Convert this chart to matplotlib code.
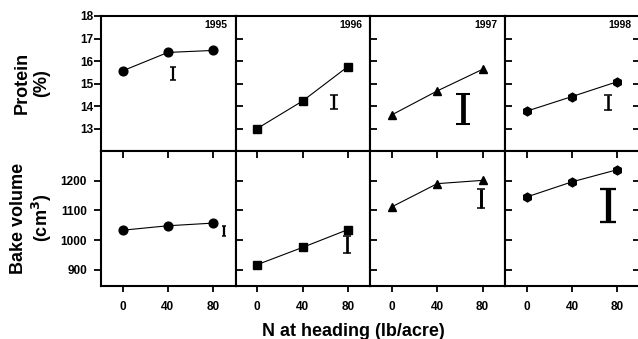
import matplotlib

matplotlib.use("Agg")

import matplotlib.pyplot as plt
import numpy as np

plt.rcParams.update(
    {
        "font.family": ["Liberation Sans", "DejaVu Sans"],
        "font.weight": "bold",
        "font.size": 8.5,
    }
)

YEARS = ["1995", "1996", "1997", "1998"]
MARKERS = ["o", "s", "^", "h"]
N_RATE = [0, 40, 80]

PROTEIN = [
    [15.56, 16.38, 16.47],
    [13.00, 14.22, 15.75],
    [13.61, 14.67, 15.63],
    [13.77, 14.42, 15.08],
]
BAKE = [
    [1033, 1048, 1057],
    [917, 975, 1035],
    [1112, 1190, 1201],
    [1145, 1196, 1237],
]

# LSD bars: x position, low, high
PROTEIN_LSD_X = [44.6, 67.4, 63.0, 72.0]
PROTEIN_LSD_LO = [15.14, 13.85, 13.21, 13.80]
PROTEIN_LSD_HI = [15.74, 14.50, 14.52, 14.50]
BAKE_LSD_X = [89.7, 79.0, 79.0, 72.0]
BAKE_LSD_LO = [1013, 956, 1109, 1062]
BAKE_LSD_HI = [1048, 1013, 1171, 1173]

PROTEIN_TICKS = [13, 14, 15, 16, 17, 18]
BAKE_TICKS = [900, 1000, 1100, 1200]

W, H = 638, 339
fig, axes = plt.subplots(2, 4, figsize=(W / 100, H / 100), dpi=100, sharex=True)
fig.subplots_adjust(left=101 / W, right=1.003, top=1 - 16 / H, bottom=1 - 286 / H,
                    wspace=0, hspace=0)


def draw_lsd(ax, x, lo, hi, ylim):
    # serif "I"-style bar, scaled with its height
    ax_h = ax.get_position().height * H
    h_px = (hi - lo) / (ylim[1] - ylim[0]) * ax_h
    pt = 0.72
    ax.errorbar([x], [(lo + hi) / 2], yerr=[[(hi - lo) / 2]], fmt="none",
                ecolor="black", elinewidth=max(0.16 * h_px * pt, 1.6),
                capsize=0.24 * h_px * pt, capthick=max(0.07 * h_px * pt, 1.1))


for i in range(4):
    top = axes[0, i]
    bot = axes[1, i]
    for ax, data, ylim, ticks, lx, llo, lhi in (
        (top, PROTEIN, (12, 18), PROTEIN_TICKS, PROTEIN_LSD_X, PROTEIN_LSD_LO, PROTEIN_LSD_HI),
        (bot, BAKE, (845, 1300), BAKE_TICKS, BAKE_LSD_X, BAKE_LSD_LO, BAKE_LSD_HI),
    ):
        ax.plot(N_RATE, data[i], color="black", lw=0.8, marker=MARKERS[i],
                ms=6.3 if MARKERS[i] != "s" else 5.8, mfc="black", mec="black")
        draw_lsd(ax, lx[i], llo[i], lhi[i], ylim)
        ax.set_ylim(*ylim)
        ax.set_yticks(ticks)
        for s in ax.spines.values():
            s.set_linewidth(1.5)
        ax.tick_params(axis="y", length=5, width=1.3,
                       direction="out" if i == 0 else "in",
                       right=(i == 3), labelleft=(i == 0))
    top.tick_params(axis="y", pad=0.5)
    bot.tick_params(axis="y", pad=5)
    top.tick_params(axis="x", bottom=False, labelbottom=False)
    bot.tick_params(axis="x", top=True, bottom=True, direction="out", length=4,
                    width=1.3, pad=7)
    for t in bot.xaxis.get_major_ticks():
        t.tick2line.set_marker(3)  # inward-pointing tick on top edge
        t.tick2line.set_markersize(5)
    top.text(0.94, 0.93, YEARS[i], transform=top.transAxes, ha="right", va="center",
             fontsize=7.5, fontweight="bold")

axes[1, 0].set_xlim(-19, 100)
axes[1, 0].set_xticks(N_RATE)

fig.text(32 / W, 1 - 83 / H, "Protein\n(%)", rotation=90, ha="center", va="center",
         fontsize=13, fontweight="bold", multialignment="center", linespacing=1.2)
fig.text(32 / W, 1 - 218 / H, "Bake volume\n(cm$^3$)", rotation=90, ha="center",
         va="center", fontsize=13, fontweight="bold", multialignment="center",
         linespacing=1.2)
fig.text(353 / W, 1 - 331 / H, "N at heading (lb/acre)", ha="center", va="center",
         fontsize=13, fontweight="bold")

fig.savefig("out.png", dpi=100)
